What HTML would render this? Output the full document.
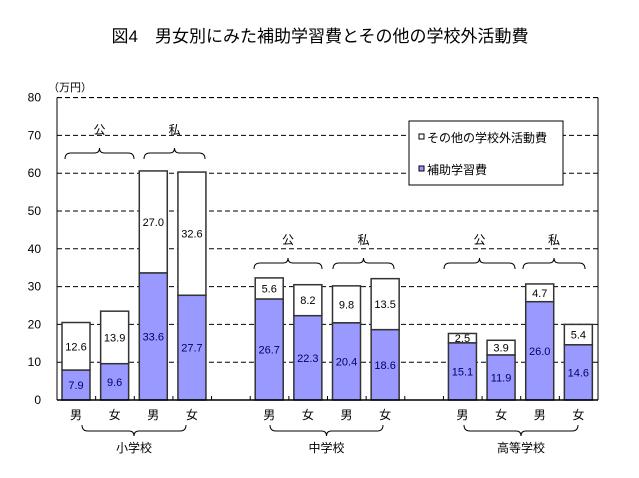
<!DOCTYPE html>
<html><head><meta charset="utf-8"><style>
body{margin:0;background:#fff;}
svg text{font-family:"Liberation Sans","Noto Sans CJK JP",sans-serif;}
</style></head><body>
<svg id="s" width="639" height="473" xmlns="http://www.w3.org/2000/svg">
<text x="320" y="42" font-size="17" text-anchor="middle">図4　男女別にみた補助学習費とその他の学校外活動費</text>
<text x="48" y="91" font-size="11">（万円）</text>
<g id="g"></g>
</svg>
<script>
var g=document.getElementById('g'),h='';
var L=57,R=598,B=400,k=3.78;
function Y(v){return B-v*k;}
for(var i=0;i<=8;i++){var y=Y(i*10);
 h+='<text x="41" y="'+(y+4)+'" font-size="12" text-anchor="end">'+(i*10)+'</text>';
 if(i>0)h+='<line x1="'+L+'" x2="'+R+'" y1="'+y+'" y2="'+y+'" stroke="#000" stroke-width="1" stroke-dasharray="5,3"/>';}
var d=[[7.9,12.6],[9.6,13.9],[33.6,27.0],[27.7,32.6],[26.7,5.6],[22.3,8.2],[20.4,9.8],[18.6,13.5],[15.1,2.5],[11.9,3.9],[26.0,4.7],[14.6,5.4]];
var sl=[0,1,2,3,5,6,7,8,10,11,12,13],sw=(R-L)/14;
for(var i=0;i<12;i++){var x=L+sl[i]*sw+5,a=d[i][0],b=d[i][1],cx=x+14;
 h+='<rect x="'+x+'" y="'+Y(a+b)+'" width="28" height="'+(b*k)+'" fill="#fff" stroke="#333" stroke-width="1.5"/>';
 h+='<rect x="'+x+'" y="'+Y(a)+'" width="28" height="'+(a*k)+'" fill="#9999ff" stroke="#333" stroke-width="1.5"/>';
 h+='<text x="'+cx+'" y="'+(Y(a/2)+4)+'" font-size="11" text-anchor="middle" fill="#000066">'+a.toFixed(1)+'</text>';
 h+='<text x="'+cx+'" y="'+(Y(a+b/2)+4)+'" font-size="11" text-anchor="middle">'+b.toFixed(1)+'</text>';
 h+='<text x="'+cx+'" y="419" font-size="12" text-anchor="middle">'+(i%2?'女':'男')+'</text>';}
for(var i=1;i<14;i++){var x=L+i*sw;h+='<line x1="'+x+'" x2="'+x+'" y1="'+B+'" y2="'+(B-4)+'" stroke="#000"/>';}
h+='<line x1="'+L+'" x2="'+L+'" y1="97.5" y2="'+B+'" stroke="#000"/><line x1="'+R+'" x2="'+R+'" y1="97.5" y2="'+B+'" stroke="#000"/>';
h+='<line x1="'+L+'" x2="'+R+'" y1="97.5" y2="97.5" stroke="#000" stroke-dasharray="5,3"/>';
h+='<line x1="'+L+'" x2="'+R+'" y1="'+B+'" y2="'+B+'" stroke="#000" stroke-width="1.5"/>';
function tb(x1,x2,y,lab){var m=(x1+x2)/2;h+='<path d="M'+x1+','+(y+6)+' Q'+x1+','+y+' '+(x1+6)+','+y+' L'+(m-5)+','+y+' Q'+m+','+y+' '+m+','+(y-5)+' Q'+m+','+y+' '+(m+5)+','+y+' L'+(x2-6)+','+y+' Q'+x2+','+y+' '+x2+','+(y+6)+'" fill="none" stroke="#000"/>';
 h+='<text x="'+m+'" y="'+(y-19)+'" font-size="12" text-anchor="middle">'+lab+'</text>';}
function bb(x1,x2,y,lab){var m=(x1+x2)/2;h+='<path d="M'+x1+','+(y-6)+' Q'+x1+','+y+' '+(x1+6)+','+y+' L'+(m-5)+','+y+' Q'+m+','+y+' '+m+','+(y+5)+' Q'+m+','+y+' '+(m+5)+','+y+' L'+(x2-6)+','+y+' Q'+x2+','+y+' '+x2+','+(y-6)+'" fill="none" stroke="#000"/>';
 h+='<text x="'+m+'" y="452" font-size="12" text-anchor="middle">'+lab+'</text>';}
tb(65,134,153,'公');tb(144,205,153,'私');tb(254,322,263,'公');tb(333,394,263,'私');tb(444,515,263,'公');tb(523,585,263,'私');
bb(82,186,431,'小学校');bb(270,383,431,'中学校');bb(464,578,431,'高等学校');
h+='<rect x="409" y="121" width="154" height="64" fill="#fff" stroke="#000"/>';
h+='<rect x="419" y="134" width="5" height="5" fill="#fff" stroke="#000"/><text x="427" y="142" font-size="12">その他の学校外活動費</text>';
h+='<rect x="419" y="166" width="5" height="5" fill="#9999ff" stroke="#000"/><text x="427" y="174" font-size="12">補助学習費</text>';
g.innerHTML=h;
</script>
</body></html>
